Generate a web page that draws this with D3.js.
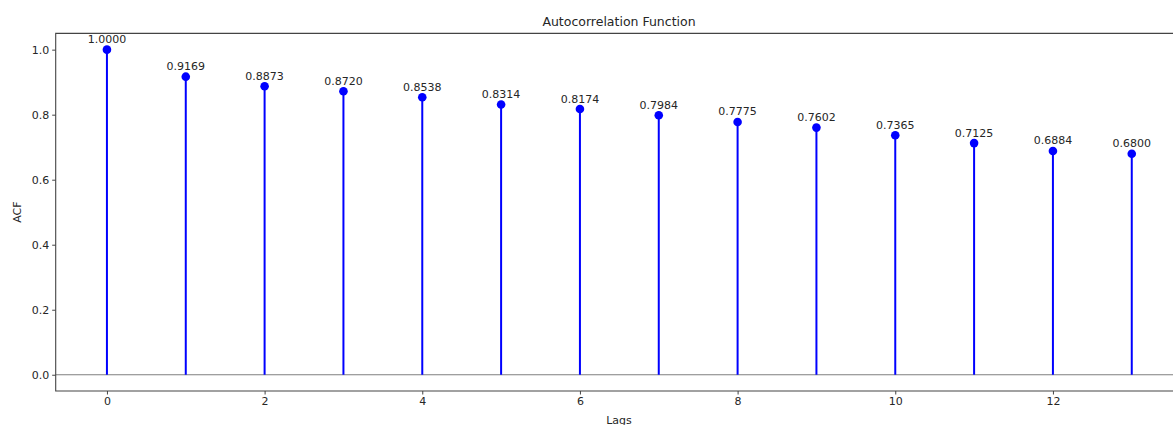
<!DOCTYPE html>
<html>
<head>
<meta charset="utf-8">
<script src="https://cdn.jsdelivr.net/npm/d3@7"></script>
<style>
  body { margin: 0; background: #fff; }
  text { font-family: "DejaVu Sans", sans-serif; fill: #262626; }
</style>
</head>
<body>
<div id="chart"></div>
<script>
var lags = [0, 1, 2, 3, 4, 5, 6, 7, 8, 9, 10, 11, 12, 13];
var acf = [1.0000, 0.9169, 0.8873, 0.8720, 0.8538, 0.8314, 0.8174, 0.7984, 0.7775, 0.7602, 0.7365, 0.7125, 0.6884, 0.6800];
var xTicks = [0, 2, 4, 6, 8, 10, 12];
var yTicks = [0.0, 0.2, 0.4, 0.6, 0.8, 1.0];

function drawChart() {
    var width = 1173;
    var height = 425;
    var margin = {left: 55.7, top: 33.4, right: -10, bottom: 34};

    var svg = d3.select('#chart')
      .append('svg')
        .attr('width', width)
        .attr('height', height);

    var x = d3.scaleLinear()
        .domain([-0.65, 13.65])
        .range([margin.left, width - margin.right]);

    var y = d3.scaleLinear()
        .domain([-0.05, 1.05])
        .range([height - margin.bottom, margin.top]);

    // x axis
    var xAxis = svg.append('g')
        .attr('transform', `translate(0,${y(-0.05)})`)
        .call(d3.axisBottom(x).tickValues(xTicks).tickFormat(d3.format('d')).tickSize(3.5).tickPadding(3));
    xAxis.select('.domain').remove();

    var yAxis = svg.append('g')
        .attr('transform', `translate(${x(-0.65)},0)`)
        .call(d3.axisLeft(y).tickValues(yTicks).tickFormat(d3.format('.1f')).tickSize(3.5).tickPadding(3));
    yAxis.select('.domain').remove();

    svg.selectAll('.tick text')
        .attr('font-size', '11px')
        .attr('font-family', '"DejaVu Sans", sans-serif')
        .attr('fill', '#262626');
    svg.selectAll('.tick line')
        .attr('stroke', '#444');

    // baseline
    svg.append('line')
        .attr('x1', x(-0.65)).attr('x2', x(13.65))
        .attr('y1', y(0)).attr('y2', y(0))
        .attr('stroke', '#7f7f7f')
        .attr('stroke-width', 1.2);

    // stems
    svg.append('g')
      .selectAll('line')
      .data(lags)
      .enter()
      .append('line')
        .attr('x1', d => x(d)).attr('x2', d => x(d))
        .attr('y1', y(0))
        .attr('y2', (d, i) => y(acf[i]))
        .attr('stroke', '#0000ff')
        .attr('stroke-width', 2);

    svg.append('g')
      .selectAll('circle')
      .data(lags)
      .enter()
      .append('circle')
        .attr('cx', d => x(d))
        .attr('cy', (d, i) => y(acf[i]))
        .attr('r', 4.3)
        .attr('fill', '#0000ff');

    // value labels
    svg.append('g')
      .selectAll('text')
      .data(lags)
      .enter()
      .append('text')
        .attr('x', d => x(d))
        .attr('y', (d, i) => y(acf[i]) - 6.5)
        .attr('text-anchor', 'middle')
        .attr('font-size', '11px')
        .text((d, i) => acf[i].toFixed(4));

    // frame
    svg.append('path')
        .attr('d', `M${x(13.65)},${y(1.05)}H${x(-0.65)}V${y(-0.05)}H${x(13.65)}`)
        .attr('fill', 'none')
        .attr('stroke', '#444')
        .attr('stroke-width', 1.1);

    svg.append('text')
        .attr('x', 619)
        .attr('y', 26)
        .attr('text-anchor', 'middle')
        .attr('font-size', '12.5px')
        .text('Autocorrelation Function');

    svg.append('text')
        .attr('x', 619)
        .attr('y', 424)
        .attr('text-anchor', 'middle')
        .attr('font-size', '11px')
        .text('Lags');

    svg.append('text')
        .attr('transform', `translate(21,${(y(1.05) + y(-0.05)) / 2}) rotate(-90)`)
        .attr('text-anchor', 'middle')
        .attr('font-size', '11px')
        .text('ACF');
}

drawChart();
</script>
</body>
</html>
